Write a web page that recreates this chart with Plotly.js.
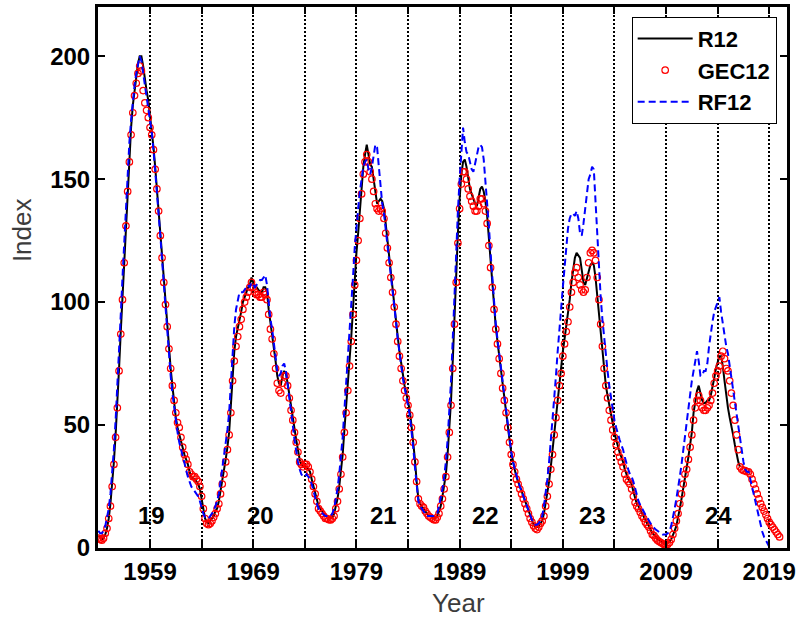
<!DOCTYPE html>
<html>
<head>
<meta charset="utf-8">
<script src="https://cdn.plot.ly/plotly-3.0.1.min.js"></script>
<style>html,body{margin:0;padding:0;background:#fff;}#chart{width:800px;height:619px;}</style>
</head>
<body>
<div id="chart"></div>
<script>
// Bimonthly samples starting January 1954 (Jan, Mar, May, Jul, Sep, Nov of each year)
const startYear = 1954;
const samplesPerYear = 6;

const R12 = [
  5,4,3.5,4,5.5,8,            // 1954
  12,18,26,35,46,58,          // 1955
  73,88,102,117,132,147,      // 1956
  160,171,180,186,192,197,    // 1957
  200,200,196,190,186,182,    // 1958
  176,170,163,155,147,138,    // 1959
  128,119,109,99,90,81,       // 1960
  73,66,59,53,49,46,          // 1961
  43,40,38,36,34,31,          // 1962
  29,28,28,27,26,24,          // 1963
  20,16,12,10.5,10,11,        // 1964
  12,13,15,16,19,23,          // 1965
  27,31,36,41,47,58,          // 1966
  72,80,86,89,92,96,          // 1967
  100,102,104,106,107,110,    // 1968
  108,106,106,105,104,104,    // 1969
  106,106,104,97,92,88,       // 1970
  82,76,70,67,66,70,          // 1971
  72,71,67,62,57,53,          // 1972
  48,44,40,36,34,33,          // 1973
  33,33,32,31,28,25,          // 1974
  23,20,17,16,15,14,          // 1975
  13,13,12.5,12.2,12.5,14,    // 1976
  17,20,25,31,38,48,          // 1977
  57,66,76,86,97,110,         // 1978
  120,128,138,147,155,160,    // 1979
  164,160,156,155,150,143,    // 1980
  140,141,142,141,138,132,    // 1981
  125,118,112,106,100,93,     // 1982
  86,80,75,70,66,63,          // 1983
  60,56,50,44,36,27,          // 1984
  20,18,17,16,15,14,          // 1985
  13,13,12.5,12,12.3,13,      // 1986
  15,17,21,25,30,38,          // 1987
  48,60,76,95,112,128,        // 1988
  142,152,157,158,155,150,    // 1989
  146,144,142,140,139,142,    // 1990
  146,147,145,141,135,126,    // 1991
  117,108,98,90,84,78,        // 1992
  72,66,61,56,50,44,          // 1993
  39,35,32,29,27,25,          // 1994
  23,21,19,17,15,13,          // 1995
  11,9.5,8.5,8.5,9,10,        // 1996
  11,14,18,22,27,33,          // 1997
  40,48,55,62,68,73,          // 1998
  80,85,90,95,101,108,        // 1999
  113,118,120,119,118,113,    // 2000
  108,107,110,113,115,116,    // 2001
  115,110,103,96,88,80,       // 2002
  72,66,62,58,54,50,          // 2003
  47,44,41,39,37,35,          // 2004
  32,30,28,27,26,23,          // 2005
  20,18,17,15.5,14,12.5,      // 2006
  11,10,9,7.5,6,5.5,          // 2007
  4.5,3.8,3.2,2.8,2.2,1.8,    // 2008
  1.8,2,2.5,3.5,5,7,          // 2009
  9,12,16,20,24,28,           // 2010
  32,37,42,47,55,60,          // 2011
  64,66,63,60,59,59,          // 2012
  60,60,62,65,69,73,          // 2013
  76,78,78,74,68,62,          // 2014
  57,53,50,46,42,38,          // 2015
  35,33                       // 2016
];

const GEC12 = [
  4,3.5,3.2,4,6,8,            // 1954
  12,17,25,34,45,57,          // 1955
  72,87,101,116,131,145,      // 1956
  157,168,177,184,189,193,    // 1957
  196,194,186,181,178,175,    // 1958
  171,168,162,154,146,137,    // 1959
  127,118,108,99,90,81,       // 1960
  73,66,60,55,51,49,          // 1961
  45,41,38,36,34,31,          // 1962
  30,29,29,28,27,25,          // 1963
  21,16,12,10,9.5,10,         // 1964
  11,12.5,14,16,18,22,        // 1965
  26,30,35,40,46,55,          // 1966
  68,76,82,86,90,93,          // 1967
  97,100,102,104,106,108,     // 1968
  106,104,103,103,102,102,    // 1969
  104,103,101,95,89,85,       // 1970
  79,73,67,64,63,67,          // 1971
  70,70,66,61,56,52,          // 1972
  47,43,39,35,34,33,          // 1973
  34,34,33,31,28,25,          // 1974
  22,19,16,15,14,13,          // 1975
  12,12,11.5,11.4,12,13,      // 1976
  16,19,24,30,37,47,          // 1977
  55,64,74,84,95,107,         // 1978
  117,125,134,144,152,157,    // 1979
  160,157,153,150,145,140,    // 1980
  138,137,138,137,134,128,    // 1981
  122,116,110,104,98,91,      // 1982
  84,78,73,68,64,61,          // 1983
  58,54,49,43,35,27,          // 1984
  20,18,17,16.5,15,14,        // 1985
  13,12.5,12,11.5,11.4,12.5,  // 1986
  14,17,20,24,29,37,          // 1987
  47,58,73,91,108,124,        // 1988
  138,148,153,153,150,146,    // 1989
  143,141,139,137,137,139,    // 1990
  142,142,140,137,132,123,    // 1991
  114,106,97,89,83,77,        // 1992
  71,65,60,55,49,43,          // 1993
  38,34,31,28,26,24,          // 1994
  22,20,18,16,14,12,          // 1995
  10.5,9,8,7.5,8.5,10,        // 1996
  11,13,17,21,26,32,          // 1997
  38,46,53,60,66,71,          // 1998
  78,83,88,92,98,104,         // 1999
  108,112,114,110,107,105,    // 2000
  104,105,110,116,120,121,    // 2001
  120,117,110,101,91,82,      // 2002
  73,66,61,56,52,48,          // 2003
  45,42,39,37,35,33,          // 2004
  30,28,27,26,24,21,          // 2005
  18.5,17,16,14.5,13,12,      // 2006
  10.5,9.5,8.5,7,5.5,5,       // 2007
  4,3.2,2.6,2.2,1.8,1.3,      // 2008
  1.2,1.5,2.2,3.5,5.5,8,      // 2009
  11,14,18,22,26,30,          // 2010
  32,36,41,46,52,57,          // 2011
  60,62,60,57,56,56,          // 2012
  57,58,60,63,67,70,          // 2013
  72,74,78,80,77,73,          // 2014
  72,68,63,58,52,46,          // 2015
  40,33,32,31.5,31.5,31,      // 2016
  31,30,28,26,24,22,          // 2017
  20,18,16.5,15,13.5,12,      // 2018
  10.5,9.5,8.5,7.5,6.5,5.5,   // 2019
  4.5                         // 2020
];

const RF12 = [
  7,6,6,7,9,12,               // 1954
  16,22,30,40,52,65,          // 1955
  80,95,110,125,140,154,      // 1956
  165,174,182,188,193,197,    // 1957
  200,198,193,188,184,180,    // 1958
  175,169,162,154,146,137,    // 1959
  127,117,107,97,88,79,       // 1960
  70,63,57,52,47,43,          // 1961
  40,37,34,31,29,27,          // 1962
  25,24,23,22,21,19,          // 1963
  16,14,12.5,12,12,13,        // 1964
  14,15,17,19,22,27,          // 1965
  32,37,42,48,55,66,          // 1966
  80,90,97,101,104,104,       // 1967
  104,105,106,107,106,108,    // 1968
  107,106,107,108,109,109,    // 1969
  110,111,107,99,93,89,       // 1970
  83,77,72,70,71,74,          // 1971
  75,72,67,61,55,50,          // 1972
  44,39,35,32,30,29,          // 1973
  29,30,29,28,26,23,          // 1974
  21,18,16,15,14,13.5,        // 1975
  13,13,13,13,14,16,          // 1976
  20,24,30,37,45,56,          // 1977
  66,76,87,98,110,122,        // 1978
  131,138,145,150,155,157,    // 1979
  158,154,152,155,160,164,    // 1980
  163,155,145,140,136,130,    // 1981
  123,117,111,105,99,92,      // 1982
  85,79,74,69,65,62,          // 1983
  58,54,48,41,33,25,          // 1984
  19,17,16,15,14,13,          // 1985
  13,13,13,13,13.5,14,        // 1986
  17,20,24,29,35,44,          // 1987
  55,68,85,104,121,137,       // 1988
  150,162,171,165,161,160,    // 1989
  157,154,153,156,160,163,    // 1990
  164,163,158,150,141,131,    // 1991
  120,110,100,91,85,79,       // 1992
  73,67,61,56,50,44,          // 1993
  39,35,32,29,27,25,          // 1994
  23,21,19,17,15,13,          // 1995
  11.5,10.5,9.5,9.5,10,11.5,  // 1996
  13,17,22,28,35,43,          // 1997
  52,61,70,80,90,98,          // 1998
  106,114,122,130,134,136,    // 1999
  136,135,137,134,128,127,    // 2000
  132,138,146,150,152,155,    // 2001
  154,140,126,113,102,93,     // 2002
  85,78,72,66,61,56,          // 2003
  52,49,46,44,42,40,          // 2004
  37,34,32,30,29,27,          // 2005
  24,21,19,17.5,16,15,        // 2006
  13.5,12.5,11,10,9,8,        // 2007
  7.5,7,6.5,6,5.5,5.5,        // 2008
  5.5,6,7,9,12,16,            // 2009
  20,24,29,34,40,46,          // 2010
  52,57,63,68,72,76,          // 2011
  80,76,70,70,72,72,          // 2012
  75,82,88,92,96,98,          // 2013
  100,102,96,91,86,82,        // 2014
  79,74,69,64,59,54,          // 2015
  48,43,39,35,32,31,          // 2016
  31,28,25,22,18,15,          // 2017
  12,9,6.5,4.5,3,1.5,         // 2018
  0.5,0                       // 2019
];

const xTickVals = [1959,1964,1969,1974,1979,1984,1989,1994,1999,2004,2009,2014,2019];
const xTickText = ['1959','','1969','','1979','','1989','','1999','','2009','','2019'];
const yTickVals = [0,50,100,150,200];
const cycleLabels = ['19','20','21','22','23','24'];
const cycleX = [1959.16,1969.66,1981.6,1991.5,2001.9,2014.07];
const cycleY = 13.4;

function timeAxis(n) {
  const out = [];
  for (let i = 0; i < n; i++) out.push(startYear + i / samplesPerYear);
  return out;
}

const FONT = "Arial, 'Liberation Sans', sans-serif";

const traces = [
  {x: timeAxis(R12.length), y: R12, name: 'R12', type: 'scatter', mode: 'lines',
   line: {color: '#000000', width: 2}},
  {x: timeAxis(GEC12.length), y: GEC12, name: 'GEC12', type: 'scatter', mode: 'markers',
   marker: {symbol: 'circle-open', color: '#ff0000', size: 6.5, line: {width: 1.2, color: '#ff0000'}}},
  {x: timeAxis(RF12.length), y: RF12, name: 'RF12', type: 'scatter', mode: 'lines',
   line: {color: '#0000ff', width: 2, dash: '7px,4px'}}
];

const annotations = cycleLabels.map((t, i) => ({
  x: cycleX[i], y: cycleY, xref: 'x', yref: 'y', text: t, showarrow: false,
  xanchor: 'center', yanchor: 'middle',
  font: {family: FONT, size: 24, weight: 'bold', color: '#000'}
}));
annotations.push({
  xref: 'paper', yref: 'paper', x: -0.110, y: 0.588, text: 'Index', textangle: -90,
  xanchor: 'center', yanchor: 'middle',
  showarrow: false, font: {family: FONT, size: 26, color: '#3c3c3c'}
});
annotations.push({
  xref: 'paper', yref: 'paper', x: 0.523, y: -0.1017, text: 'Year',
  xanchor: 'center', yanchor: 'middle',
  showarrow: false, font: {family: FONT, size: 26, color: '#3c3c3c'}
});

const layout = {
  width: 800, height: 619,
  margin: {l: 98, r: 13, t: 7, b: 71},
  paper_bgcolor: '#ffffff', plot_bgcolor: '#ffffff',
  font: {family: FONT, color: '#000'},
  showlegend: true,
  legend: {
    x: 0.985, y: 0.982, xanchor: 'right', yanchor: 'top',
    bgcolor: '#ffffff', bordercolor: '#000000', borderwidth: 1,
    font: {family: FONT, size: 22, weight: 'bold', color: '#000'},
    itemwidth: 55, tracegroupgap: 0
  },
  xaxis: {
    range: [1953.96, 2020.72], tickmode: 'array', tickvals: xTickVals, ticktext: xTickText,
    showgrid: true, gridcolor: '#000000', gridwidth: 2, griddash: '2px,2px',
    zeroline: false, showline: true, linecolor: '#000', linewidth: 3, mirror: 'ticks',
    ticks: 'inside', ticklen: 7, tickwidth: 2, tickcolor: '#000',
    tickfont: {family: FONT, size: 24, weight: 'bold', color: '#000'}
  },
  yaxis: {
    range: [0, 220], tickmode: 'array', tickvals: yTickVals,
    showgrid: false, zeroline: false, showline: true, linecolor: '#000', linewidth: 3, mirror: 'ticks',
    ticks: 'inside', ticklen: 7, tickwidth: 2, tickcolor: '#000',
    tickfont: {family: FONT, size: 24, weight: 'bold', color: '#000'}
  },
  annotations: annotations
};

Plotly.newPlot('chart', traces, layout, {displayModeBar: false, staticPlot: true});
</script>
</body>
</html>
